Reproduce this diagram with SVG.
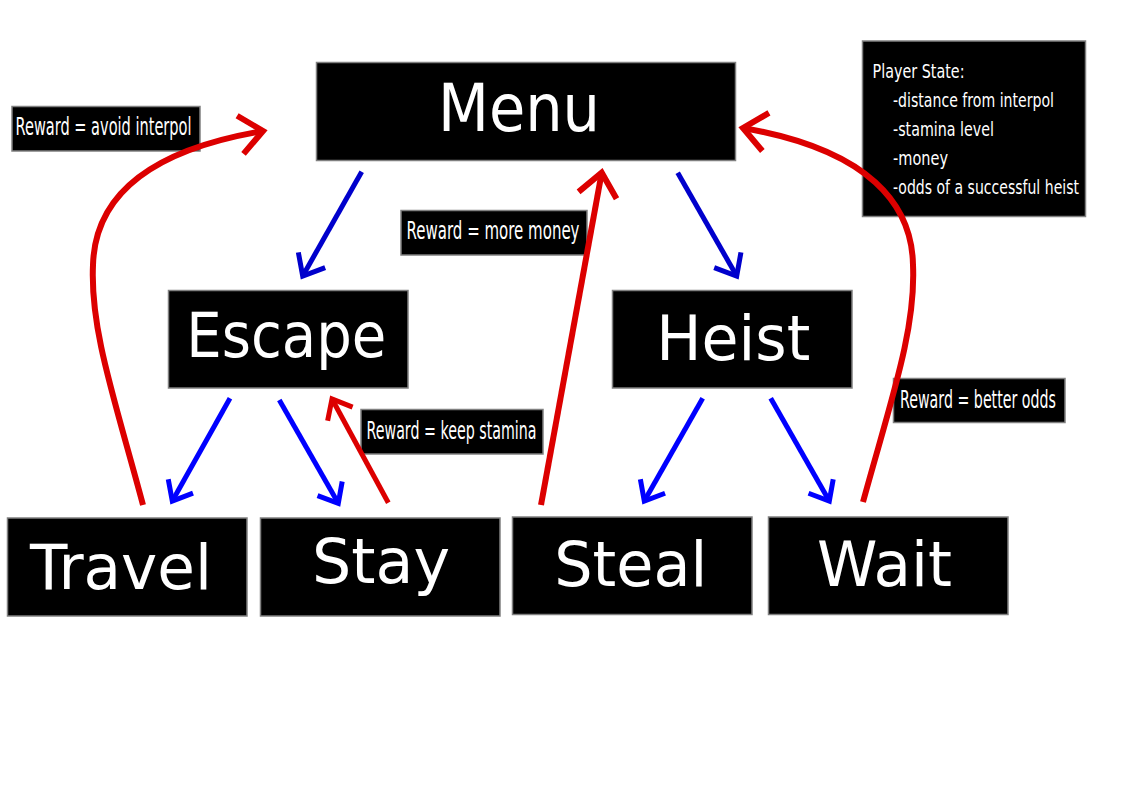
<svg xmlns="http://www.w3.org/2000/svg" width="1123" height="794" viewBox="0 0 1123 794">
  <style>
    .box { fill: #000; stroke: #808080; stroke-width: 1.5; }
    .big { font-family: "DejaVu Sans", Verdana, sans-serif; font-size: 63px; fill: #fff; text-anchor: middle; }
    .lbl { font-family: "DejaVu Sans", Verdana, sans-serif; font-size: 25px; fill: #fff; }
    .ps { font-family: "DejaVu Sans", Verdana, sans-serif; font-size: 19.5px; fill: #fff; }
    .blue1 { fill: none; stroke: #0000cc; stroke-width: 5; }
    .blue2 { fill: none; stroke: #0000ff; stroke-width: 5; }
    .red { fill: none; stroke: #dc0000; stroke-width: 6; }
    .red2 { fill: none; stroke: #dc0000; stroke-width: 5; }
  </style>
  <defs>
    <marker id="mBlue1" markerUnits="userSpaceOnUse" orient="auto" refX="0" refY="0" markerWidth="60" markerHeight="60" viewBox="-30 -30 60 60" overflow="visible">
      <path d="M-18.4,-15.4 L0,0 L-18.4,15.4" fill="none" stroke="#0000cc" stroke-width="5"/>
    </marker>
    <marker id="mBlue2" markerUnits="userSpaceOnUse" orient="auto" refX="0" refY="0" markerWidth="60" markerHeight="60" viewBox="-30 -30 60 60" overflow="visible">
      <path d="M-17,-14.2 L0,0 L-17,14.2" fill="none" stroke="#0000ff" stroke-width="5"/>
    </marker>
    <marker id="mRed" markerUnits="userSpaceOnUse" orient="auto" refX="0" refY="0" markerWidth="80" markerHeight="80" viewBox="-40 -40 80 80" overflow="visible">
      <path d="M-23,-19.3 L0,0 L-23,19.3" fill="none" stroke="#dc0000" stroke-width="6"/>
    </marker>
    <marker id="mRed2" markerUnits="userSpaceOnUse" orient="auto" refX="0" refY="0" markerWidth="60" markerHeight="60" viewBox="-30 -30 60 60" overflow="visible">
      <path d="M-17,-14.2 L0,0 L-17,14.2" fill="none" stroke="#dc0000" stroke-width="5"/>
    </marker>
  </defs>

  <rect x="0" y="0" width="1123" height="794" fill="#fff"/>

  <g id="node-menu">
    <rect class="box" x="316.5" y="62.5" width="419" height="98"/>
    <text class="big" x="519" y="131" style="font-size:65px" textLength="162" lengthAdjust="spacingAndGlyphs">Menu</text>
  </g>
  <g id="node-escape">
    <rect class="box" x="168.5" y="290.5" width="239.5" height="97.5"/>
    <text class="big" x="286.3" y="357" textLength="200" lengthAdjust="spacingAndGlyphs">Escape</text>
  </g>
  <g id="node-heist">
    <rect class="box" x="612.5" y="290.5" width="239.5" height="97.5"/>
    <text class="big" x="733.3" y="360" textLength="154" lengthAdjust="spacingAndGlyphs">Heist</text>
  </g>
  <g id="node-travel">
    <rect class="box" x="7.5" y="518" width="239.5" height="98"/>
    <text class="big" x="121" y="589" textLength="182" lengthAdjust="spacingAndGlyphs">Travel</text>
  </g>
  <g id="node-stay">
    <rect class="box" x="260.5" y="518" width="239.5" height="98"/>
    <text class="big" x="381" y="582.5" textLength="138" lengthAdjust="spacingAndGlyphs">Stay</text>
  </g>
  <g id="node-steal">
    <rect class="box" x="512.5" y="517" width="239.5" height="97.5"/>
    <text class="big" x="630.7" y="586" textLength="153" lengthAdjust="spacingAndGlyphs">Steal</text>
  </g>
  <g id="node-wait">
    <rect class="box" x="768.5" y="517" width="239.5" height="97.5"/>
    <text class="big" x="884.5" y="586" textLength="135" lengthAdjust="spacingAndGlyphs">Wait</text>
  </g>

  <g id="label-avoid-interpol">
    <rect class="box" x="12" y="106.5" width="188" height="44.5"/>
    <text class="lbl" x="15.5" y="135" textLength="176" lengthAdjust="spacingAndGlyphs">Reward = avoid interpol</text>
  </g>
  <g id="label-more-money">
    <rect class="box" x="401" y="210.5" width="186" height="44.5"/>
    <text class="lbl" x="406.5" y="239" textLength="173" lengthAdjust="spacingAndGlyphs">Reward = more money</text>
  </g>
  <g id="label-keep-stamina">
    <rect class="box" x="361" y="409.5" width="182" height="44.5"/>
    <text class="lbl" x="366.5" y="439" textLength="170" lengthAdjust="spacingAndGlyphs">Reward = keep stamina</text>
  </g>
  <g id="label-better-odds">
    <rect class="box" x="893.5" y="378.5" width="171.5" height="44"/>
    <text class="lbl" x="900" y="407.5" textLength="156" lengthAdjust="spacingAndGlyphs">Reward = better odds</text>
  </g>

  <g id="node-player-state">
    <rect class="box" x="862.5" y="41" width="223" height="175.5"/>
    <text class="ps" x="872.5" y="77.5" textLength="92" lengthAdjust="spacingAndGlyphs">Player State:</text>
    <text class="ps" x="893" y="106.5" textLength="161" lengthAdjust="spacingAndGlyphs">-distance from interpol</text>
    <text class="ps" x="893" y="135.5" textLength="101" lengthAdjust="spacingAndGlyphs">-stamina level</text>
    <text class="ps" x="893" y="164.5" textLength="55" lengthAdjust="spacingAndGlyphs">-money</text>
    <text class="ps" x="893" y="193.5" textLength="186" lengthAdjust="spacingAndGlyphs">-odds of a successful heist</text>
  </g>

  <g id="connectors">
    <path id="e-menu-escape" class="blue1" d="M361.7,171.7 L302.7,276" marker-end="url(#mBlue1)"/>
    <path id="e-menu-heist" class="blue1" d="M677.7,172.7 L736.7,276" marker-end="url(#mBlue1)"/>
    <path id="e-escape-travel" class="blue2" d="M230,398.3 L172.3,501" marker-end="url(#mBlue2)"/>
    <path id="e-escape-stay" class="blue2" d="M279.3,400 L338.3,503.3" marker-end="url(#mBlue2)"/>
    <path id="e-heist-steal" class="blue2" d="M702.7,398.3 L644.3,501" marker-end="url(#mBlue2)"/>
    <path id="e-heist-wait" class="blue2" d="M770.7,398.3 L829.3,501" marker-end="url(#mBlue2)"/>
    <path id="r-travel-menu" class="red" d="M143,505 C115,400 90,330 93,265 C95,195 150,150 263,131" marker-end="url(#mRed)"/>
    <path id="r-stay-escape" class="red2" d="M388.3,502.7 L332,399" marker-end="url(#mRed2)"/>
    <path id="r-steal-menu" class="red" d="M541,505 L601.7,172.7" marker-end="url(#mRed)"/>
    <path id="r-wait-menu" class="red" d="M863,502 C891,400 916,330 913,265 C912,205 870,150 743,128" marker-end="url(#mRed)"/>
  </g>
</svg>
